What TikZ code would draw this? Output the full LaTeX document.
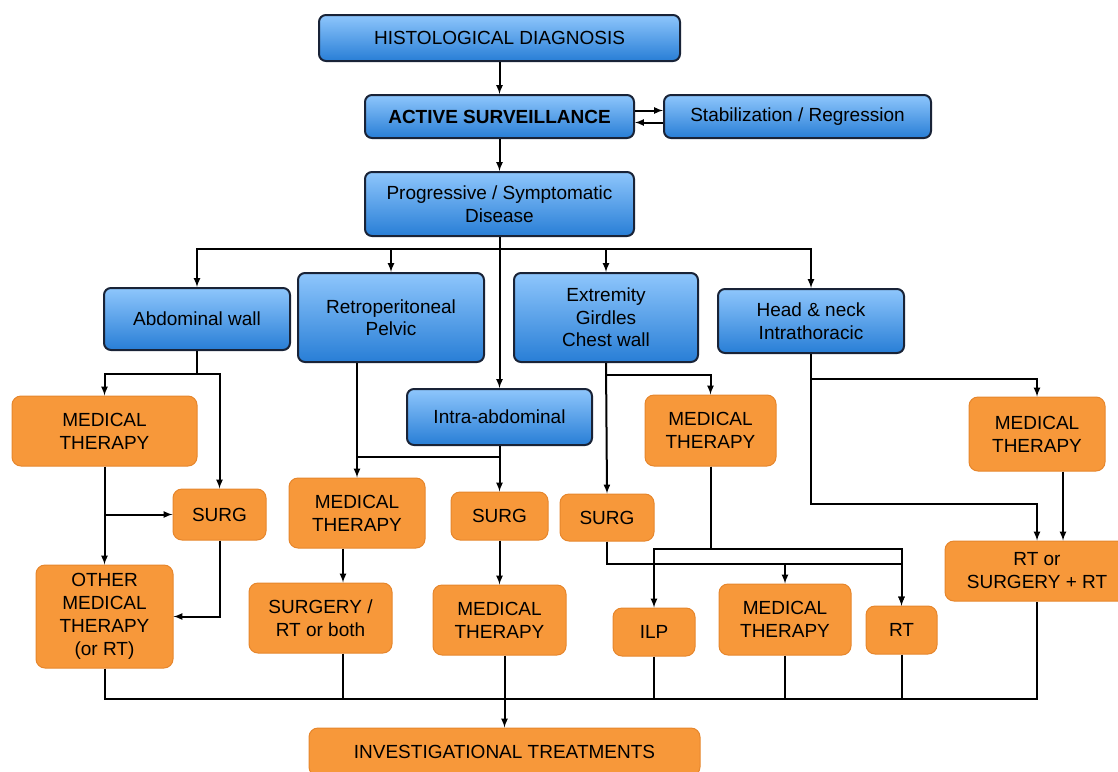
\documentclass[tikz,border=0pt]{standalone}
\usepackage{fontspec}
\setmainfont{Liberation Sans}
\usetikzlibrary{arrows}
\definecolor{bluetop}{RGB}{142,198,252}
\definecolor{bluebot}{RGB}{40,126,214}
\definecolor{boxline}{RGB}{25,35,55}
\definecolor{orfill}{RGB}{247,152,58}
\definecolor{orline}{RGB}{230,134,44}

\begin{document}
\begin{tikzpicture}[x=1pt, y=-1pt, >=latex, line width=2pt,
    bluebox/.style = {draw=boxline, line width=2pt, rounded corners=7pt,
        top color=bluetop, bottom color=bluebot, align=center, inner sep=0pt,
        font=\fontsize{19}{22.5}\selectfont},
    orbox/.style = {draw=orline, line width=1pt, fill=orfill, rounded corners=9pt,
        align=center, inner sep=0pt, font=\fontsize{19}{23}\selectfont},
    wh/.style 2 args = {minimum width=#1pt, minimum height=#2pt}]
\useasboundingbox (0,0) rectangle (1118,771);

\node[bluebox, wh={361}{46}] (hd) at (499.5,38) {HISTOLOGICAL DIAGNOSIS};
\node[bluebox, wh={269}{43}, font=\fontsize{19}{22.5}\selectfont\bfseries] (as) at (499.5,116.5) {ACTIVE SURVEILLANCE};
\node[bluebox, wh={267}{43}] (stab) at (797.5,116.5) {Stabilization / Regression};
\node[bluebox, wh={269}{64}] (prog) at (499.5,204) {Progressive / Symptomatic\\Disease};
\node[bluebox, wh={186}{62}] (abd) at (197,319) {Abdominal wall};
\node[bluebox, wh={186}{89}] (retro) at (391,317.5) {Retroperitoneal\\Pelvic};
\node[bluebox, wh={184}{89}] (extr) at (606,317.5) {Extremity\\Girdles\\Chest wall};
\node[bluebox, wh={186}{64}] (head) at (811,321) {Head \& neck\\Intrathoracic};
\node[bluebox, wh={185}{56}] (intra) at (499.5,417) {Intra-abdominal};

\node[orbox, wh={185}{70}] (mt1) at (104.5,431) {MEDICAL\\THERAPY};
\node[orbox, wh={93}{51}] (surg1) at (219.5,514.5) {SURG};
\node[orbox, wh={137}{103}] (omt) at (104.5,616.5) {OTHER\\MEDICAL\\THERAPY\\(or RT)};
\node[orbox, wh={136}{70}] (mt2) at (357,513) {MEDICAL\\THERAPY};
\node[orbox, wh={97}{48}] (surg2) at (499.5,516) {SURG};
\node[orbox, wh={143}{70}] (srt) at (320.5,618) {SURGERY /\\RT or both};
\node[orbox, wh={133}{70}] (mt3) at (499.5,620) {MEDICAL\\THERAPY};
\node[orbox, wh={131}{71}] (mt4) at (710.5,430.5) {MEDICAL\\THERAPY};
\node[orbox, wh={94}{47}] (surg3) at (607,517.5) {SURG};
\node[orbox, wh={82}{48}] (ilp) at (654,632) {ILP};
\node[orbox, wh={132}{71}] (mt5) at (785,619.5) {MEDICAL\\THERAPY};
\node[orbox, wh={71}{48}] (rt) at (901.5,630) {RT};
\node[orbox, wh={136}{74}] (mt6) at (1037,434) {MEDICAL\\THERAPY};
\node[orbox, wh={184}{60}] (rts) at (1037,571) {RT or\\SURGERY + RT};
\node[orbox, wh={391}{48}] (inv) at (504.5,752) {INVESTIGATIONAL TREATMENTS};

\draw[->] (hd) -- (as);
\draw[->] ([yshift=6pt]as.east) -- ([yshift=6pt]stab.west);
\draw[->] ([yshift=-6pt]stab.west) -- ([yshift=-6pt]as.east);
\draw[->] (as) -- (prog);
\draw[->] (prog) -- (intra);
\foreach \n in {abd,retro,extr,head}
    \draw[->] (prog.south |- 0,249) -| (\n.north);

\draw[->] (abd.south) -- ++(0,23) -| (mt1.north);
\draw[->] (abd.south) -- ++(0,23) -| (surg1.north);
\draw[->] (mt1) -- (omt);
\draw[->] (mt1.south |- surg1.west) -- (surg1.west);
\draw[->] (surg1.south) |- (omt.east);

\draw[->] (mt2.north |- retro.south) -- (mt2.north);
\draw (intra.south |- 0,457) -- (mt2.north |- 0,457);
\draw[->] (intra) -- (surg2);
\draw[->] ([xshift=-14pt]mt2.south) -- ([xshift=-14pt]mt2.south |- srt.north);
\draw[->] (surg2) -- (mt3);

\draw[->] (extr.south) -- (surg3.north);
\draw[->] (extr.south) -- ++(0,12) -| (mt4.north);
\draw[->] (mt4.south) -- ++(0,82) -| (ilp.north);
\draw[->] (mt4.south) -- ++(0,82) -| (rt.north);
\draw[->] (surg3.south) -- ++(0,22) -| (mt5.north);
\draw[->] (surg3.south) -- ++(0,22) -| (rt.north);

\draw[->] (head.south) -- ++(0,25) -| (mt6.north);
\draw[->] (head.south) -- ++(0,150) -| (rts.north);
\draw[->] ([xshift=26pt]mt6.south) -- ([xshift=26pt]mt6.south |- rts.north);

\draw (omt.south) |- (rts.south |- 0,699) -- (rts.south);
\draw ([xshift=22.5pt]srt.south) -- ([xshift=22.5pt]srt.south |- 0,699);
\foreach \n in {ilp,mt5,rt}
    \draw (\n.south) -- (\n.south |- 0,699);
\draw[->] (inv.north |- mt3.south) -- (inv.north);
\end{tikzpicture}
\end{document}
